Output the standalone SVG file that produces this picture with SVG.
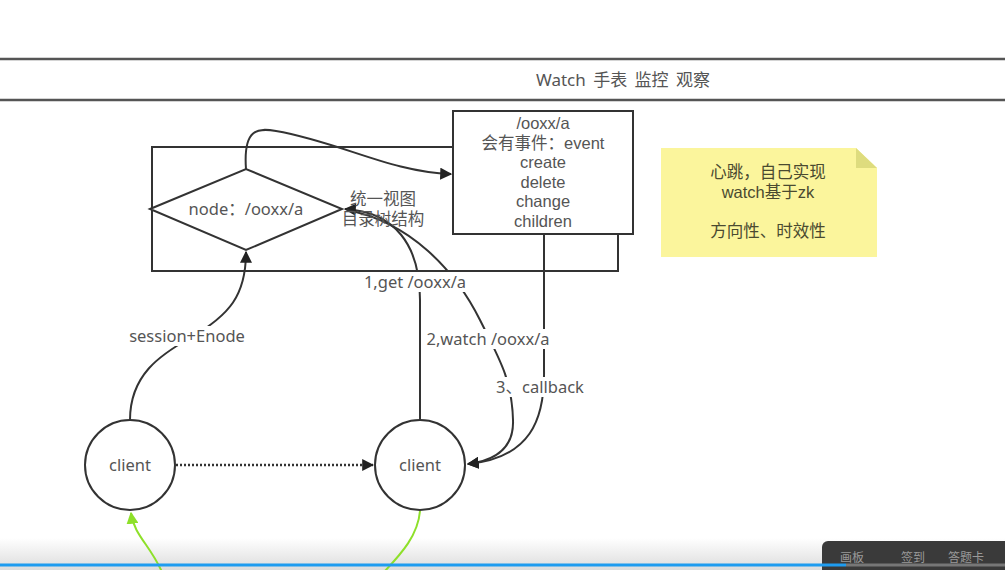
<svg xmlns="http://www.w3.org/2000/svg" width="1005" height="570" viewBox="0 0 1005 570">
<defs>
<marker id="ahb" viewBox="0 0 10 10" refX="9" refY="5" markerWidth="12" markerHeight="12" markerUnits="userSpaceOnUse" orient="auto">
<path d="M0,0 L10,5 L0,10 z" fill="#222"/>
</marker>
<marker id="ahg" viewBox="0 0 10 10" refX="9" refY="5" markerWidth="12" markerHeight="12" markerUnits="userSpaceOnUse" orient="auto">
<path d="M0,0 L10,5 L0,10 z" fill="#8ee02a"/>
</marker>
<linearGradient id="bot" x1="0" y1="0" x2="0" y2="1">
<stop offset="0" stop-color="#ffffff"/>
<stop offset="1" stop-color="#dcdcdc"/>
</linearGradient>
</defs>
<style>
text{font-family:"Noto Sans","Noto Sans CJK SC",sans-serif;fill:#555;text-anchor:middle}
.t{font-size:16.5px}
.b{font-family:"Liberation Sans","Noto Sans CJK SC",sans-serif;font-size:16.5px}
.n{fill:#4a4a30}
.s{stroke:#333;stroke-width:2;fill:none}
.c{stroke:#333;stroke-width:2;fill:#fff}
.g{stroke:#8ee02a;stroke-width:2;fill:none}
.lbl{fill:#fff}
</style>
<rect width="1005" height="570" fill="#fff"/>
<rect x="0" y="538" width="1005" height="32" fill="url(#bot)"/>
<g id="header">
<line x1="0" y1="59" x2="1005" y2="59" stroke="#555" stroke-width="2.5"/>
<line x1="0" y1="100" x2="1005" y2="100" stroke="#555" stroke-width="2.5"/>
<text x="623" y="86" style="font-size:17px;word-spacing:3px">Watch 手表 监控 观察</text>
</g>
<g id="frame">
<polyline class="s" points="453,147 152,147 152,271 618,271 618,234"/>
</g>
<g id="connectors">
<path class="s" d="M246,169 C243,128 258,128 276,131 C340,142 390,172 451,174" marker-end="url(#ahb)"/>
<path class="s" d="M420,420 L420,300 C420,245 395,212 345,209" marker-end="url(#ahb)"/>
<path class="s" d="M347,210 C410,222 455,270 480,320 C500,360 512,380 513,420 C514,445 500,460 468,464" marker-end="url(#ahb)"/>
<path class="s" d="M544,234 L544,370 C545,420 530,458 468,464" marker-end="url(#ahb)"/>
<path class="s" d="M130,420 C130,375 160,355 190,338 C230,315 246,295 246,252" marker-end="url(#ahb)"/>
<line x1="176" y1="465" x2="373" y2="465" stroke="#333" stroke-width="2.5" stroke-dasharray="2,2" marker-end="url(#ahb)"/>
<path class="g" d="M162,572 C150,545 134,535 131,513" marker-end="url(#ahg)"/>
<path class="g" d="M420,511 C418,535 402,553 384,572"/>
<rect class="lbl" x="122" y="326" width="130" height="20"/>
<text x="187" y="342" class="t">session+Enode</text>
<rect class="lbl" x="360" y="272" width="112" height="20"/>
<text x="415" y="288" class="t">1,get /ooxx/a</text>
<rect class="lbl" x="423" y="329" width="130" height="20"/>
<text x="488" y="345" class="t">2,watch /ooxx/a</text>
<rect class="lbl" x="492" y="377" width="96" height="20"/>
<text x="540" y="393" class="t">3、callback</text>
<text x="383" y="205" class="b">统一视图</text>
<text x="383" y="225" class="b">目录树结构</text>
</g>
<g id="node">
<polygon class="c" points="150,209 246,169 342,209 246,250"/>
<text x="246" y="215" class="t">node：/ooxx/a</text>
</g>
<g id="events">
<rect class="c" x="453" y="111" width="180" height="123"/>
<text x="543" y="129" class="b">/ooxx/a</text>
<text x="543" y="148.5" class="b">会有事件：event</text>
<text x="543" y="168" class="b">create</text>
<text x="543" y="187.5" class="b">delete</text>
<text x="543" y="207" class="b">change</text>
<text x="543" y="226.5" class="b">children</text>
</g>
<g id="client1">
<ellipse class="c" cx="130" cy="465" rx="45" ry="45"/>
<text x="130" y="471" class="t">client</text>
</g>
<g id="client2">
<ellipse class="c" cx="420" cy="465" rx="45" ry="45"/>
<text x="420" y="471" class="t">client</text>
</g>
<g id="note">
<path d="M661,148 L856,148 L877,168 L877,257 L661,257 z" fill="#fbf59c"/>
<path d="M856,148 L877,168 L856,168 z" fill="#dedc7e"/>
<text x="768" y="178" class="b n">心跳，自己实现</text>
<text x="768" y="198" class="b n">watch基于zk</text>
<text x="768" y="237" class="b n">方向性、时效性</text>
</g>
<g id="toolbar">
<rect x="822" y="541" width="190" height="36" rx="6" fill="#3a3a3a"/>
<line x1="0" y1="565" x2="846" y2="565" stroke="#1e9cf0" stroke-width="3"/>
<line x1="846" y1="565" x2="1005" y2="565" stroke="#777" stroke-width="3"/>
<text x="852" y="562" style="font-size:12px;fill:#999">画板</text>
<text x="913" y="562" style="font-size:12px;fill:#999">签到</text>
<text x="966" y="562" style="font-size:12px;fill:#999">答题卡</text>
</g>
</svg>
